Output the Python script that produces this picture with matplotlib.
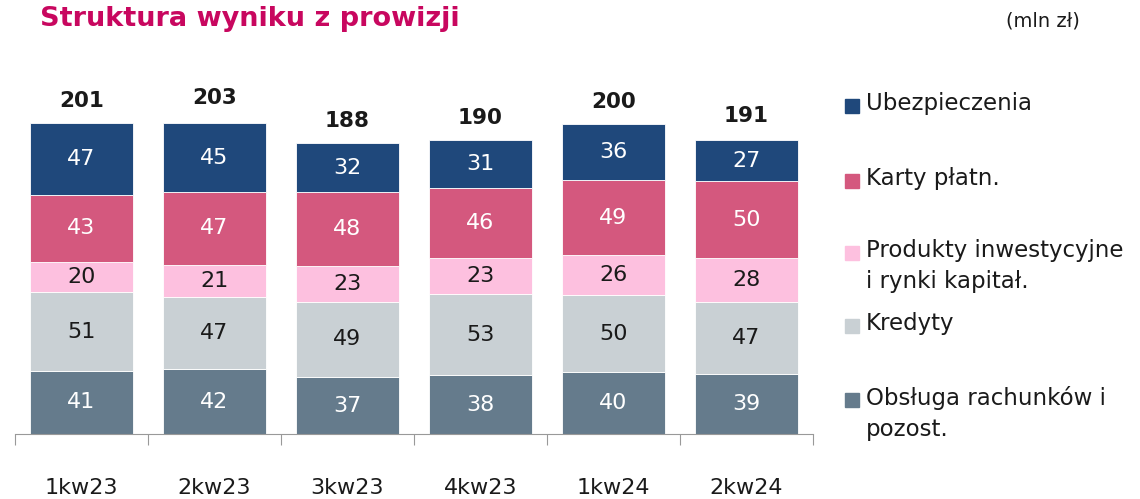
import matplotlib.pyplot as plt
from matplotlib.patches import Rectangle
import numpy as np

plt.rcParams['font.family'] = ['DejaVu Sans']

quarters = ["1kw23", "2kw23", "3kw23", "4kw23", "1kw24", "2kw24"]
obsluga = [41, 42, 37, 38, 40, 39]
kredyty = [51, 47, 49, 53, 50, 47]
produkty = [20, 21, 23, 23, 26, 28]
karty = [43, 47, 48, 46, 49, 50]
ubezp = [47, 45, 32, 31, 36, 27]
totals = [201, 203, 188, 190, 200, 191]

series = [
    ("Obsługa rachunków i\npozost.", obsluga, "#657b8c", "white"),
    ("Kredyty", kredyty, "#c9d0d4", "#1a1a1a"),
    ("Produkty inwestycyjne\ni rynki kapitał.", produkty, "#fdc0df", "#1a1a1a"),
    ("Karty płatn.", karty, "#d4587e", "white"),
    ("Ubezpieczenia", ubezp, "#1f487b", "white"),
]

W, H = 1140, 499
fig = plt.figure(figsize=(W / 100, H / 100), dpi=100)
ax = fig.add_axes([15 / W, 65 / H, 798 / W, 385 / H])

x = np.arange(len(quarters))
bottom = np.zeros(len(quarters))
for name, vals, col, tc in series:
    ax.bar(x, vals, 0.77, bottom=bottom, color=col, edgecolor="white", linewidth=0.6)
    for xi, b, v in zip(x, bottom, vals):
        ax.text(xi, b + v / 2, str(v), ha="center", va="center", fontsize=16, color=tc)
    bottom += np.array(vals)

for xi, t in zip(x, totals):
    ax.text(xi, t + 9, str(t), ha="center", va="bottom", fontsize=15.5,
            fontweight="bold", color="#1a1a1a")

ax.set_xlim(-0.5, len(quarters) - 0.5)
ax.set_ylim(0, 250)
for s in ["top", "right", "left"]:
    ax.spines[s].set_visible(False)
ax.spines["bottom"].set_color("#999999")
ax.set_yticks([])
ax.set_xticks(np.arange(-0.5, len(quarters), 1.0))
ax.set_xticklabels([])
ax.tick_params(axis="x", direction="out", length=8, color="#999999")
for xi, q in zip(x, quarters):
    ax.text(xi, -35, q, ha="center", va="center", fontsize=16, color="#1a1a1a")

fig.text(40 / W, 1 - 19 / H, "Struktura wyniku z prowizji", fontsize=19.5,
         fontweight="bold", color="#c8075f", ha="left", va="center")
fig.text(1080 / W, 1 - 21 / H, "(mln zł)", fontsize=14, color="#1a1a1a",
         ha="right", va="center")

# legend, top to bottom
leg_y = [106, 181, 253, 326, 400]
for (name, vals, col, tc), yy in zip(series[::-1], leg_y):
    fig.patches.append(Rectangle((845 / W, 1 - (yy + 7) / H), 14 / W, 14 / H,
                                 transform=fig.transFigure, color=col))
    fig.text(866 / W, 1 - (yy - 14) / H, name, fontsize=16.5, color="#1a1a1a",
             ha="left", va="top", linespacing=1.45)

fig.savefig("out.png", dpi=100)
